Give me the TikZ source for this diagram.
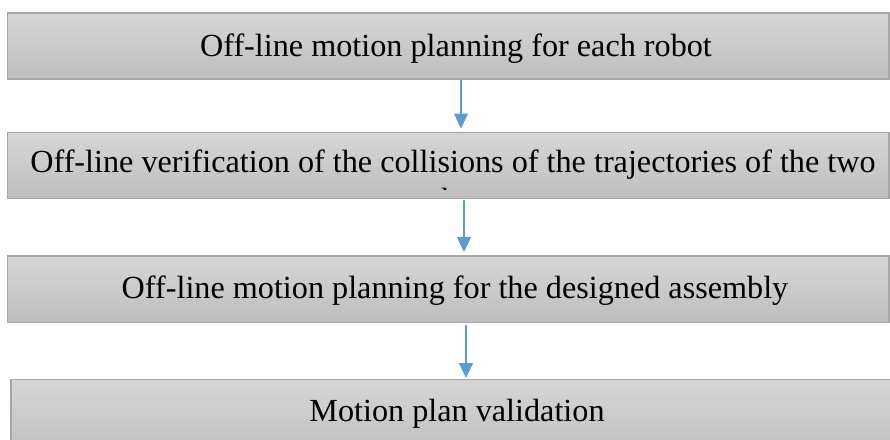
\documentclass[tikz,border=0pt]{standalone}
\usepackage{fontspec}
\setmainfont{Liberation Serif}
\usetikzlibrary{arrows.meta}
\definecolor{boxtop}{HTML}{D6D6D6}
\definecolor{boxbot}{HTML}{BEBEBE}
\definecolor{boxline}{HTML}{A6A6A6}
\definecolor{arrblue}{HTML}{5B9BD5}
\tikzset{
  stepbox/.style={rectangle, draw=boxline, line width=1.2pt, top color=boxtop, bottom color=boxbot, inner sep=0pt},
  steptext/.style={anchor=base, inner sep=0pt, font=\fontsize{32.2}{38}\selectfont, text=black},
  flowarrow/.style={draw=arrblue, line width=1.3pt, -{Triangle[width=14pt,length=15pt]}}
}
\begin{document}
\begin{tikzpicture}[x=1pt,y=-1pt]
\clip (0,0) rectangle (890,439);
\fill[white] (0,0) rectangle (890,439);
% boxes
\node[stepbox, minimum width=881.5pt, minimum height=66pt] (b1) at (448.25,46) {};
\node[stepbox, minimum width=881.5pt, minimum height=66pt] (b2) at (448.25,165.6) {};
\node[stepbox, minimum width=881.5pt, minimum height=66.5pt] (b3) at (448.25,289.3) {};
\node[stepbox, minimum width=885pt, minimum height=80pt] (b4) at (453.5,419.3) {};
% texts
\node[steptext] (t1) at (456,56) {Off-line motion planning for each robot};
\node[steptext] (t2) at (453,172) {Off-line verification of the collisions of the trajectories of the two};
\begin{scope}
\clip (b2.north west) rectangle (890,189.5);
\node[steptext] (t2b) at (455,210) {robots};
\end{scope}
\node[steptext] (t3) at (455,298) {Off-line motion planning for the designed assembly};
\node[steptext] (t4) at (457,421) {Motion plan validation};
% arrows
\coordinate (a1s) at (461,79.5);
\coordinate (a1e) at (461,128.5);
\coordinate (a2s) at (464,199.5);
\coordinate (a2e) at (464,252);
\coordinate (a3s) at (466,325);
\coordinate (a3e) at (466,378);
\draw[flowarrow] (a1s) -- (a1e);
\draw[flowarrow] (a2s) -- (a2e);
\draw[flowarrow] (a3s) -- (a3e);
\end{tikzpicture}
\end{document}
